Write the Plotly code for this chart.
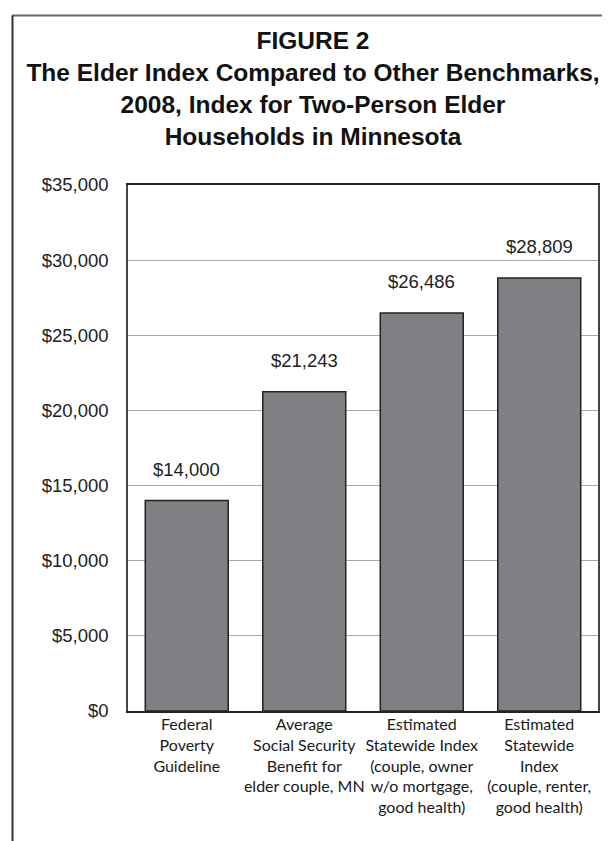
import plotly.graph_objects as go

categories = [
    "Federal<br>Poverty<br>Guideline",
    "Average<br>Social Security<br>Benefit for<br>elder couple, MN",
    "Estimated<br>Statewide Index<br>(couple, owner<br>w/o mortgage,<br>good health)",
    "Estimated<br>Statewide<br>Index<br>(couple, renter,<br>good health)",
]
values = [14000, 21243, 26486, 28809]
value_labels = ["$14,000", "$21,243", "$26,486", "$28,809"]
tick_vals = [0, 5000, 10000, 15000, 20000, 25000, 30000, 35000]
tick_text = ["$0", "$5,000", "$10,000", "$15,000", "$20,000", "$25,000", "$30,000", "$35,000"]
title_text = ("<b>FIGURE 2</b><br><b>The Elder Index Compared to Other Benchmarks,</b><br>"
              "<b>2008, Index for Two-Person Elder</b><br><b>Households in Minnesota</b>")

W, H = 610, 841
L, R, T, B = 120, 20, 177, 138
pw, ph = W - L - R, H - T - B

def px_x(x):
    return (x - L) / pw

def px_y(y):
    return (H - B - y) / ph

fig = go.Figure()
fig.add_trace(go.Bar(
    x=categories, y=values,
    marker=dict(color="#808084", line=dict(color="#222222", width=1.5)),
    width=0.706,
    hoverinfo="skip",
))

for c, v, t in zip(categories, values, value_labels):
    fig.add_annotation(x=c, y=v, text=t, showarrow=False, yanchor="bottom",
                       yshift=19, font=dict(family="Liberation Sans, Arial, sans-serif",
                                            size=18.5, color="#222222"))

narrow = "Lato, Roboto, sans-serif"

fig.update_layout(
    width=W, height=H,
    margin=dict(l=L, r=R, t=T, b=B, pad=0),
    paper_bgcolor="white", plot_bgcolor="white",
    showlegend=False,
    title=dict(text=title_text, x=0.5, xanchor="center", xref="container",
               y=1 - 41 / H, yanchor="top", yref="container",
               font=dict(family="Liberation Sans, Arial, sans-serif", size=24.5, color="#111111")),
    xaxis=dict(showgrid=False, showline=True, linecolor="#222222", linewidth=1.5,
               mirror=True, ticks="", tickangle=0,
               tickfont=dict(family=narrow, size=16, color="#1a1a1a"),
               ticklabelstandoff=-2, range=[-0.5, 3.5]),
    yaxis=dict(range=[0, 35000], tickvals=tick_vals, ticktext=tick_text,
               showgrid=True, gridcolor="#aaaaaa", gridwidth=1.2,
               showline=True, linecolor="#444444", linewidth=1.5, mirror=True,
               ticks="", ticklabelstandoff=14, zeroline=False,
               tickfont=dict(family="Liberation Sans, Arial, sans-serif", size=18.5, color="#222222")),
    shapes=[
        dict(type="line", xref="paper", yref="paper",
             x0=px_x(4), x1=px_x(611), y0=px_y(7.5), y1=px_y(7.5),
             line=dict(color="#666666", width=2)),
        dict(type="line", xref="paper", yref="paper",
             x0=px_x(4.5), x1=px_x(4.5), y0=px_y(7.5), y1=px_y(842),
             line=dict(color="#333333", width=2)),
    ],
)

fig.write_html("out.html")
